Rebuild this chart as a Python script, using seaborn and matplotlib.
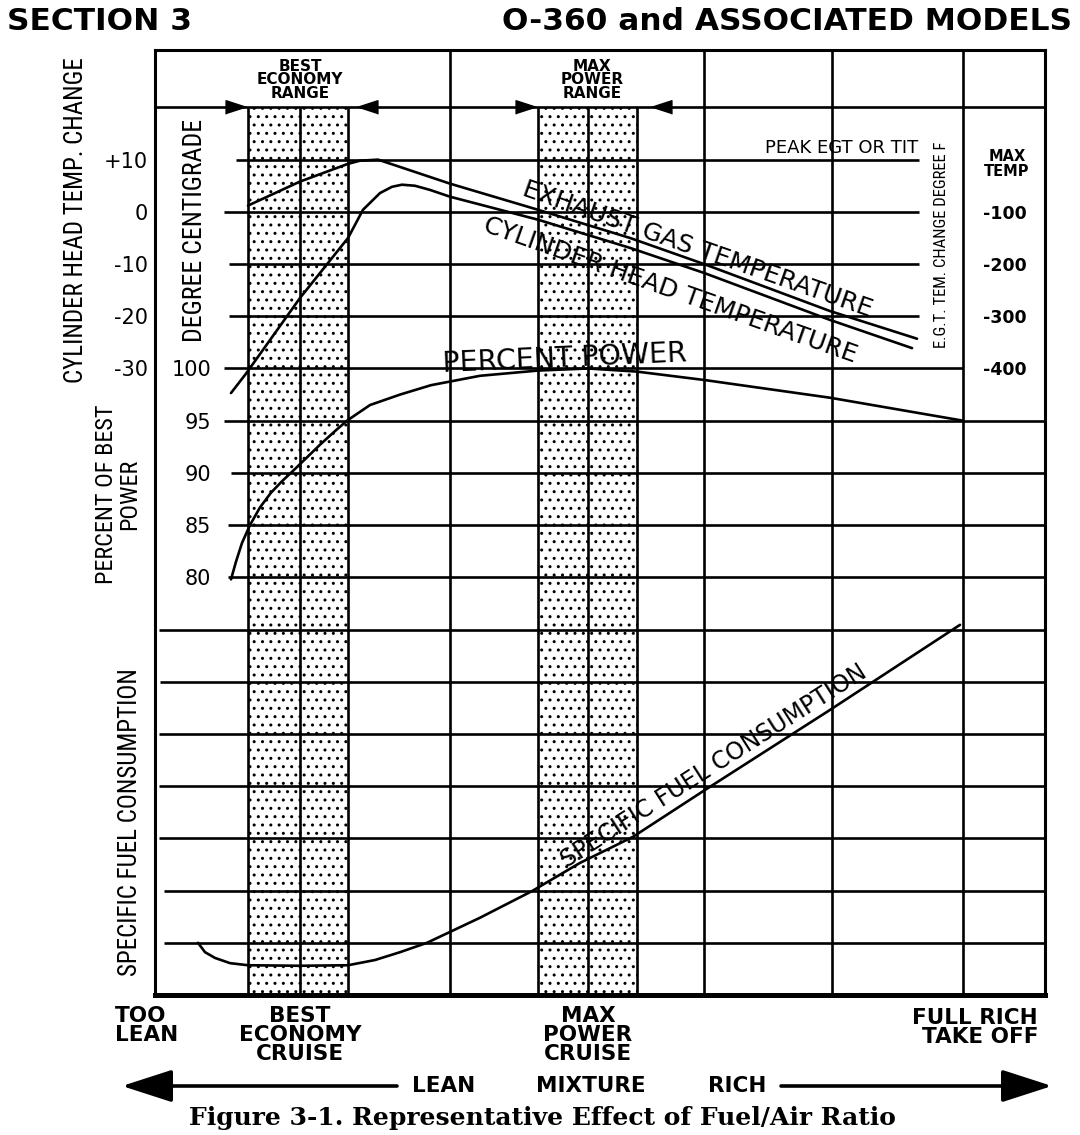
#!/usr/bin/env python3
"""
Figure 3-1 (O-360 operator manual): representative effect of fuel/air ratio,
redrawn with seaborn / matplotlib.
"""

import matplotlib
matplotlib.use("Agg")
import matplotlib.pyplot as plt
from matplotlib import font_manager
from matplotlib.patches import FancyArrowPatch
import pandas as pd
import seaborn as sns

W, H = 1080, 1135

# x: mixture position, 0 = left frame (too lean) ... 100 = right frame (full rich)
# main y: chart rows, counted in grid steps from the bottom frame
TOP_ROW = 18.1
ARROW_ROW = 17

econ_band = [10.45, 21.69]
power_band = [43.03, 54.16]
band_centre_lines = [16.29, 48.65]
full_height_lines = [33.15, 61.69, 76.07, 90.79]

grid_rows = [17, 16, 15, 14, 13, 12, 11, 10, 9, 8, 7, 6, 5, 4, 3, 2, 1]
grid_row_start = [0, 9.1, 7.75, 8.3, 8.3, 7.75, 7.75, 8.5, 8.2, 8.2,
                  0.5, 0.6, 0.4, 0.4, 0.4, 1.0, 1.0]
grid_row_end = [100, 85.84, 85.84, 85.84, 85.84, 90.79, 100, 100, 100, 100,
                100, 100, 100, 100, 100, 100, 100]

# cylinder head temperature change, deg C
cht_x = [8.54, 10.22, 16.29, 21.69, 23.37, 25.28, 26.63, 27.75, 29.21, 30.90,
         33.15, 43.03, 53.37, 61.69, 75.84, 85.06]
cht_c = [-34.7, -31.0, -16.5, -5.0, 0.4, 3.6, 4.8, 5.2, 5.0, 4.2,
         2.9, -1.5, -6.9, -11.7, -20.7, -26.1]

# exhaust gas temperature change from peak, deg F
egt_x = [10.45, 16.29, 21.69, 23.03, 25.06, 27.53, 33.15, 43.03, 53.37, 61.69, 75.84, 85.62]
egt_f = [-88, -42, -8, -2, 0, -14, -46, -96, -150, -200, -290, -343]

# percent of best power
power_x = [8.54, 9.10, 9.78, 10.67, 11.80, 13.03, 14.27, 15.51, 16.85, 18.54,
           20.22, 21.57, 24.16, 27.53, 31.01, 36.52, 43.03, 48.65, 54.16,
           61.69, 75.84, 90.79]
power_pct = [79.8, 81.5, 83.3, 85.0, 86.7, 88.1, 89.2, 90.2, 91.3, 92.7,
             94.0, 95.0, 96.5, 97.5, 98.4, 99.3, 99.8, 100.0, 99.7,
             98.9, 97.2, 95.0]

# specific fuel consumption (no scale printed, kept in grid rows)
sfc_x = [4.83, 5.62, 6.74, 8.43, 10.45, 16.29, 21.69, 24.72, 27.53, 30.56,
         36.52, 42.36, 47.75, 53.71, 61.46, 75.84, 90.45]
sfc_rows = [1.00, 0.82, 0.71, 0.61, 0.57, 0.56, 0.57, 0.67, 0.82, 1.00,
            1.48, 1.99, 2.53, 3.03, 3.89, 5.46, 7.09]

cht_ticks = [10, 0, -10, -20, -30]
cht_ticklabels = ['+10', '0', '-10', '-20', '-30']
power_ticks = [100, 95, 90, 85, 80]
egt_ticks = [-100, -200, -300, -400]


def scale_limits(zero_row, value_at_row, per_row):
    """y-limits of an overlay scale whose value_at_row sits on grid row zero_row."""
    return (value_at_row - zero_row * per_row,
            value_at_row + (TOP_ROW - zero_row) * per_row)


CHT_LIM = scale_limits(15, 0, 10)
POWER_LIM = scale_limits(12, 100, 5)
EGT_LIM = scale_limits(16, 0, 100)

sns.set_theme(style="white", rc={
    'axes.edgecolor': 'black', 'text.color': 'black',
    'xtick.color': 'black', 'ytick.color': 'black',
})
plt.rcParams['font.family'] = ['DejaVu Sans']

installed = {f.name for f in font_manager.fontManager.ttflist}
NARROW = next((n for n in ('Liberation Sans Narrow', 'Roboto Condensed')
               if n in installed), 'DejaVu Sans')
NSCALE = 1.0 if NARROW != 'DejaVu Sans' else 0.8

LW = 1.9

fig = plt.figure(figsize=(W / 100, H / 100), dpi=100)
fig.patch.set_facecolor('white')


def fig_pos(px, py):
    return px / W, 1 - py / H


def label(px, py, s, **kw):
    kw.setdefault('ha', 'center')
    kw.setdefault('va', 'center')
    fig.text(*fig_pos(px, py), s, color='black', **kw)


ax = fig.add_axes([155 / W, 1 - 995 / H, 890 / W, 945 / H])

# dotted operating ranges
for band in (econ_band, power_band):
    ax.axvspan(*band, ymin=0, ymax=ARROW_ROW / TOP_ROW, facecolor='white',
               edgecolor='black', hatch='..', lw=0, zorder=0)

# grid
ax.hlines(grid_rows, grid_row_start, grid_row_end, color='black', lw=LW, zorder=1)
ax.vlines(full_height_lines, 0, TOP_ROW, color='black', lw=LW, zorder=1)
ax.vlines(econ_band + power_band + band_centre_lines, 0, ARROW_ROW,
          color='black', lw=LW, zorder=1)

# range arrows on the top row
tri_right = [(1, 0), (-1, 0.65), (-1, -0.65)]
tri_left = [(-1, 0), (1, 0.65), (1, -0.65)]
ax.plot([econ_band[0] - 1.4, power_band[0] - 1.3], [ARROW_ROW] * 2, ls='none',
        marker=tri_right, ms=15, color='black', zorder=4)
ax.plot([econ_band[1] + 2.1, power_band[1] + 2.7], [ARROW_ROW] * 2, ls='none',
        marker=tri_left, ms=15, color='black', zorder=4)

sfc = pd.DataFrame({'mixture': sfc_x, 'sfc': sfc_rows})
sns.lineplot(data=sfc, x='mixture', y='sfc', ax=ax, color='black', lw=LW,
             sort=False, estimator=None, zorder=3)


def overlay(limits):
    tw = ax.twinx()
    tw.patch.set_visible(False)
    for s in tw.spines.values():
        s.set_visible(False)
    return tw


ax_cht = overlay(CHT_LIM)
sns.lineplot(x=cht_x, y=cht_c, ax=ax_cht, color='black', lw=LW, sort=False, estimator=None)
ax_cht.set_ylim(*CHT_LIM)
ax_cht.yaxis.tick_left()
ax_cht.set_yticks(cht_ticks, cht_ticklabels)
ax_cht.tick_params(axis='y', length=0, pad=5, labelsize=15)

ax_pw = overlay(POWER_LIM)
sns.lineplot(x=power_x, y=power_pct, ax=ax_pw, color='black', lw=LW, sort=False, estimator=None)
ax_pw.set_ylim(*POWER_LIM)
ax_pw.yaxis.tick_left()
ax_pw.set_yticks(power_ticks, [str(t) for t in power_ticks])
ax_pw.tick_params(axis='y', length=0, pad=-40.5, labelsize=15)

ax_egt = overlay(EGT_LIM)
sns.lineplot(x=egt_x, y=egt_f, ax=ax_egt, color='black', lw=LW, sort=False, estimator=None)
ax_egt.set_ylim(*EGT_LIM)
ax_egt.yaxis.tick_right()
ax_egt.set_yticks(egt_ticks, [str(t) for t in egt_ticks])
ax_egt.tick_params(axis='y', length=0, pad=-45, labelsize=12.5)
for t in ax_egt.get_yticklabels():
    t.set_fontweight('bold')

for a in (ax, ax_cht, ax_pw, ax_egt):
    a.set_xlabel('')
    a.set_ylabel('')
ax.set_xlim(0, 100)
ax.set_ylim(0, TOP_ROW)
ax.set_xticks([])
ax.set_yticks([])
for side in ('left', 'top', 'right'):
    ax.spines[side].set_linewidth(2.2)
ax.spines['bottom'].set_linewidth(3.6)

# headings
label(7, 22, 'SECTION 3', ha='left', fontsize=22.5, fontweight='bold')
label(1072, 22, 'O-360 and ASSOCIATED MODELS', ha='right', fontsize=22.5, fontweight='bold')

# axis titles
label(76, 220, 'CYLINDER HEAD TEMP. CHANGE', rotation=90, family=NARROW, fontsize=18 * NSCALE)
label(195, 230, 'DEGREE CENTIGRADE', rotation=90, family=NARROW, fontsize=18.5 * NSCALE)
label(118, 494, 'PERCENT OF BEST\nPOWER', rotation=90, family=NARROW,
      fontsize=17.5 * NSCALE, linespacing=1.0)
label(130, 822, 'SPECIFIC FUEL CONSUMPTION', rotation=90, family=NARROW, fontsize=18 * NSCALE)
label(942, 245, 'E.G.T. TEM. CHANGE DEGREE F', rotation=90, family=NARROW, fontsize=12 * NSCALE)
label(1007, 164, 'MAX\nTEMP', fontsize=10.5, fontweight='bold', linespacing=0.95)
label(918, 157, 'PEAK EGT OR TIT', ha='right', va='bottom', fontsize=13)
label(300, 80, 'BEST\nECONOMY\nRANGE', fontsize=11, fontweight='bold', linespacing=0.85)
label(592, 80, 'MAX\nPOWER\nRANGE', fontsize=11, fontweight='bold', linespacing=0.85)

# curve names
label(697, 249, 'EXHAUST GAS TEMPERATURE', rotation=-19.3, rotation_mode='anchor', fontsize=18)
label(670, 290, 'CYLINDER HEAD TEMPERATURE', rotation=-19.5, rotation_mode='anchor', fontsize=18)
label(565, 359, 'PERCENT POWER', rotation=2.5, rotation_mode='anchor', fontsize=20.5)
label(714, 766, 'SPECIFIC FUEL CONSUMPTION', rotation=32.5, rotation_mode='anchor', fontsize=17)

# mixture settings under the chart
bottom = dict(fontsize=15.5, fontweight='bold', linespacing=0.95, va='top')
label(115, 1006, 'TOO\nLEAN', ha='left', **bottom)
label(300, 1006, 'BEST\nECONOMY\nCRUISE', **bottom)
label(588, 1006, 'MAX\nPOWER\nCRUISE', **bottom)
label(1038, 1008, 'FULL RICH\nTAKE OFF', ha='right', multialignment='right', **bottom)

for px, word in [(444, 'LEAN'), (591, 'MIXTURE'), (737, 'RICH')]:
    label(px, 1086, word, fontsize=15.5, fontweight='bold')
for tail, head in [(397, 122), (781, 1052)]:
    fig.add_artist(FancyArrowPatch(fig_pos(tail, 1086), fig_pos(head, 1086),
                                   transform=fig.transFigure,
                                   arrowstyle='-|>,head_length=1.3,head_width=0.42',
                                   mutation_scale=24, lw=2.6, color='black',
                                   shrinkA=0, shrinkB=0))

label(542, 1118, 'Figure 3-1. Representative Effect of Fuel/Air Ratio',
      family='DejaVu Serif', fontweight='bold', fontsize=18)

fig.savefig('out.png', dpi=100)
